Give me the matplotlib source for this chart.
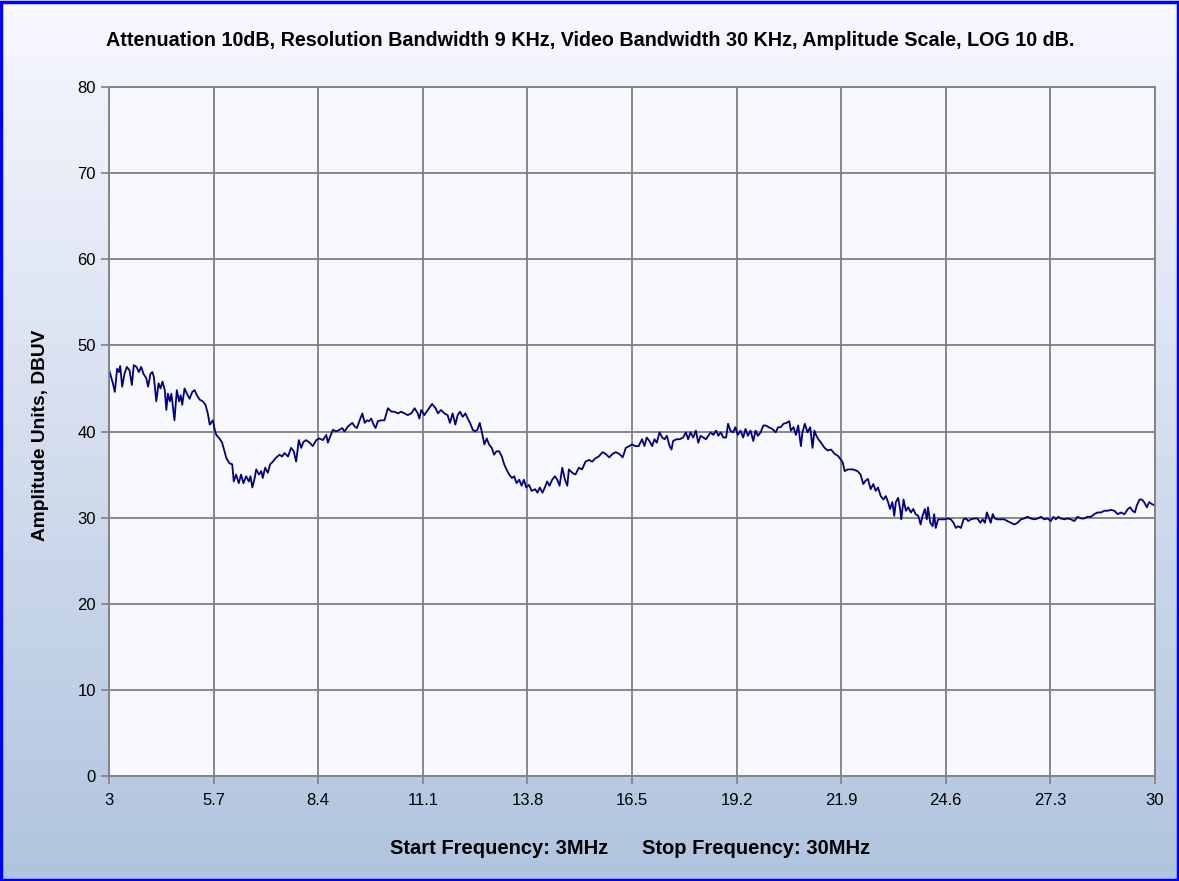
import numpy as np
import matplotlib.pyplot as plt
from matplotlib.patches import Rectangle

# frequency (MHz) and amplitude (dBuV)
freq_mhz = [
    3.00, 3.10, 3.15, 3.21, 3.26, 3.29, 3.34, 3.40, 3.46, 3.53, 3.59, 3.64, 3.71, 3.77, 3.83, 3.89,
    3.96, 4.01, 4.07, 4.12, 4.16, 4.22, 4.28, 4.33, 4.38, 4.44, 4.48, 4.52, 4.57, 4.61, 4.65, 4.69,
    4.75, 4.81, 4.85, 4.89, 4.95, 5.01, 5.08, 5.15, 5.21, 5.27, 5.34, 5.42, 5.49, 5.55, 5.60, 5.68,
    5.73, 5.77, 5.85, 5.92, 5.98, 6.03, 6.11, 6.18, 6.22, 6.28, 6.35, 6.41, 6.47, 6.54, 6.61, 6.65,
    6.70, 6.76, 6.80, 6.87, 6.93, 6.97, 7.03, 7.10, 7.16, 7.23, 7.30, 7.40, 7.47, 7.53, 7.62, 7.70,
    7.77, 7.83, 7.90, 7.96, 8.02, 8.09, 8.18, 8.26, 8.35, 8.43, 8.52, 8.61, 8.65, 8.69, 8.78, 8.86,
    8.95, 9.02, 9.08, 9.17, 9.28, 9.34, 9.40, 9.47, 9.54, 9.60, 9.66, 9.71, 9.77, 9.83, 9.88, 9.94,
    10.03, 10.11, 10.20, 10.29, 10.37, 10.46, 10.54, 10.63, 10.71, 10.80, 10.89, 10.97, 11.01, 11.06,
    11.14, 11.23, 11.34, 11.43, 11.49, 11.57, 11.66, 11.74, 11.80, 11.87, 11.94, 12.00, 12.06, 12.13,
    12.20, 12.26, 12.32, 12.39, 12.45, 12.51, 12.57, 12.63, 12.69, 12.75, 12.81, 12.88, 12.94, 13.00,
    13.07, 13.14, 13.20, 13.26, 13.33, 13.40, 13.46, 13.52, 13.59, 13.65, 13.71, 13.77, 13.84, 13.91,
    14.00, 14.06, 14.12, 14.19, 14.25, 14.31, 14.37, 14.44, 14.51, 14.57, 14.63, 14.70, 14.77, 14.83,
    14.87, 14.96, 15.04, 15.13, 15.21, 15.30, 15.39, 15.47, 15.56, 15.64, 15.74, 15.82, 15.91, 16.00,
    16.08, 16.17, 16.26, 16.34, 16.43, 16.50, 16.59, 16.67, 16.76, 16.82, 16.88, 16.95, 17.02, 17.08,
    17.14, 17.21, 17.28, 17.34, 17.40, 17.47, 17.52, 17.56, 17.65, 17.73, 17.82, 17.89, 17.95, 18.01,
    18.08, 18.15, 18.21, 18.27, 18.34, 18.41, 18.47, 18.53, 18.60, 18.67, 18.73, 18.79, 18.86, 18.93,
    18.98, 19.04, 19.11, 19.17, 19.23, 19.30, 19.37, 19.43, 19.49, 19.56, 19.63, 19.69, 19.75, 19.82,
    19.89, 19.95, 20.03, 20.12, 20.21, 20.27, 20.34, 20.41, 20.49, 20.56, 20.60, 20.67, 20.73, 20.79,
    20.86, 20.90, 20.96, 21.03, 21.10, 21.16, 21.21, 21.25, 21.31, 21.38, 21.47, 21.55, 21.64, 21.73,
    21.81, 21.88, 21.94, 21.99, 22.07, 22.20, 22.32, 22.40, 22.47, 22.53, 22.59, 22.66, 22.73, 22.79,
    22.85, 22.92, 22.99, 23.05, 23.11, 23.16, 23.22, 23.27, 23.31, 23.37, 23.42, 23.45, 23.51, 23.57,
    23.63, 23.70, 23.76, 23.82, 23.89, 23.95, 24.00, 24.06, 24.11, 24.14, 24.20, 24.26, 24.30, 24.34,
    24.40, 24.47, 24.56, 24.66, 24.73, 24.80, 24.86, 24.92, 24.99, 25.06, 25.12, 25.18, 25.25, 25.33,
    25.42, 25.49, 25.55, 25.61, 25.66, 25.72, 25.76, 25.81, 25.87, 25.93, 26.02, 26.11, 26.19, 26.28,
    26.37, 26.45, 26.54, 26.62, 26.71, 26.80, 26.88, 26.97, 27.06, 27.14, 27.23, 27.31, 27.38, 27.44,
    27.50, 27.57, 27.66, 27.74, 27.83, 27.92, 28.00, 28.09, 28.17, 28.26, 28.35, 28.43, 28.52, 28.61,
    28.69, 28.78, 28.86, 28.95, 29.04, 29.12, 29.21, 29.30, 29.36, 29.42, 29.48, 29.53, 29.60, 29.66,
    29.72, 29.79, 29.85, 29.91, 30.00,
]
amp_dbuv = [
    47.2, 45.6, 44.6, 47.3, 46.9, 47.6, 45.2, 46.7, 47.5, 47.1, 45.4, 47.7, 47.5, 46.9, 47.5, 46.7,
    46.2, 45.2, 46.7, 46.9, 46.3, 43.5, 45.6, 45.0, 45.8, 44.8, 42.5, 44.4, 43.5, 44.4, 42.9, 41.3,
    44.8, 43.5, 44.2, 43.1, 45.0, 44.4, 43.8, 44.6, 44.8, 44.2, 43.7, 43.5, 43.1, 42.1, 40.8, 41.3,
    40.2, 39.6, 39.2, 38.7, 37.7, 36.9, 36.3, 36.2, 34.2, 35.0, 34.0, 35.0, 34.0, 34.8, 34.2, 34.8,
    33.5, 34.6, 35.6, 35.0, 35.4, 34.6, 35.8, 35.2, 36.2, 36.5, 36.9, 37.3, 37.1, 37.5, 37.1, 38.1,
    37.7, 36.5, 39.0, 38.1, 38.8, 39.0, 38.7, 38.3, 39.0, 39.2, 39.0, 39.6, 38.7, 39.2, 40.2, 40.0,
    40.2, 40.4, 40.0, 40.6, 41.0, 40.6, 40.4, 41.3, 42.1, 41.0, 41.3, 41.2, 41.5, 40.8, 40.4, 41.2,
    41.3, 41.3, 42.7, 42.3, 42.3, 42.1, 42.3, 42.1, 41.9, 42.1, 42.7, 42.1, 41.5, 42.5,
    41.9, 42.5, 43.2, 42.7, 42.1, 42.5, 42.1, 41.9, 41.0, 42.1, 40.8, 41.9, 42.3, 41.7,
    42.1, 41.5, 41.0, 40.2, 40.0, 40.2, 41.0, 39.8, 38.5, 39.2, 38.5, 38.1, 37.3, 37.7,
    37.7, 37.1, 36.2, 35.6, 35.0, 34.6, 34.8, 34.0, 34.4, 33.7, 34.4, 33.5, 33.8, 33.1,
    33.3, 32.9, 33.5, 32.9, 33.5, 34.2, 33.7, 34.4, 34.8, 34.4, 33.7, 35.8, 34.4, 33.7,
    35.6, 35.2, 35.0, 35.8, 35.6, 36.5, 36.7, 36.5, 36.9, 37.1, 37.6, 37.4, 37.0, 37.4,
    37.6, 37.4, 37.0, 38.1, 38.3, 38.5, 38.3, 38.3, 39.1, 38.3, 39.3, 38.9, 38.3, 39.1,
    38.7, 39.9, 39.3, 39.1, 39.5, 38.3, 37.9, 38.9, 39.1, 39.1, 39.3, 39.9, 39.1, 39.9,
    39.3, 40.1, 38.7, 39.5, 39.3, 39.1, 39.5, 39.9, 39.6, 40.1, 39.5, 39.9, 39.3, 39.3,
    40.9, 40.1, 39.9, 40.5, 39.6, 40.1, 39.3, 40.3, 39.5, 40.1, 38.9, 40.1, 39.5, 39.9,
    40.7, 40.7, 40.5, 40.3, 39.9, 40.5, 40.5, 40.9, 41.0, 41.2, 40.1, 40.5, 39.6, 40.7,
    38.3, 39.9, 40.9, 39.9, 40.5, 38.1, 40.1, 39.6, 39.1, 38.7, 38.1, 37.8, 37.9, 37.4,
    37.2, 36.8, 36.4, 35.4, 35.6, 35.6, 35.4, 35.0, 33.9, 34.3, 34.5, 33.3, 33.9, 33.1,
    33.5, 32.5, 32.1, 32.5, 31.8, 31.0, 31.8, 30.2, 31.8, 32.3, 31.0, 29.8, 32.1, 30.8,
    31.2, 30.6, 31.0, 30.4, 30.2, 29.2, 30.2, 31.0, 29.8, 31.2, 29.4, 29.0, 30.4, 28.8,
    29.8, 29.8, 29.8, 29.9, 29.8, 29.4, 28.8, 29.0, 28.8, 29.8, 29.9, 29.6, 29.8, 29.9,
    29.9, 29.4, 29.8, 29.4, 30.6, 29.9, 29.4, 30.4, 29.9, 29.8, 29.8, 29.8, 29.6, 29.4,
    29.2, 29.4, 29.8, 29.9, 30.1, 29.9, 29.8, 29.9, 30.1, 29.8, 29.9, 29.6, 30.1, 29.8,
    30.1, 29.9, 29.8, 29.9, 29.8, 29.6, 30.1, 29.9, 29.9, 30.1, 30.1, 30.4, 30.6, 30.6,
    30.8, 30.8, 30.9, 30.8, 30.4, 30.6, 30.4, 31.0, 31.2, 30.8, 30.6, 31.4, 32.1, 32.1,
    31.8, 31.2, 31.8, 31.6, 31.4,
]
x_ticks = [3, 5.7, 8.4, 11.1, 13.8, 16.5, 19.2, 21.9, 24.6, 27.3, 30]
x_tick_labels = ['3', '5.7', '8.4', '11.1', '13.8', '16.5', '19.2', '21.9', '24.6', '27.3', '30']
y_ticks = [0, 10, 20, 30, 40, 50, 60, 70, 80]

title = 'Attenuation 10dB, Resolution Bandwidth 9 KHz, Video Bandwidth 30 KHz, Amplitude Scale, LOG 10 dB.'
x_label = 'Start Frequency: 3MHz      Stop Frequency: 30MHz'
y_label = 'Amplitude Units, DBUV'

plt.rcParams['font.family'] = ['Liberation Sans', 'DejaVu Sans']

fig = plt.figure(figsize=(11.79, 8.81), dpi=100)

# background gradient, white at the top to light steel blue at the bottom
bg = fig.add_axes([0, 0, 1, 1], zorder=-10)
top = np.array([248, 248, 255]) / 255
bottom = np.array([176, 196, 222]) / 255
t = np.linspace(0, 1, 256)[:, None]
grad = top + (bottom - top) * t
bg.imshow(grad[:, None, :], aspect='auto', extent=[0, 1, 0, 1])
bg.axis('off')
fig.patches.append(Rectangle((0.001, 0.001), 0.998, 0.997, transform=fig.transFigure,
                             fill=False, edgecolor='#0000ff', linewidth=2.5))

ax = fig.add_axes([109 / 1179, 1 - 776 / 881, (1155 - 109) / 1179, (776 - 87) / 881])
ax.set_facecolor('#f8f8ff')
ax.plot(freq_mhz, amp_dbuv, color='#000080', linewidth=1.3)

ax.set_xlim(3, 30)
ax.set_ylim(0, 80)
ax.set_xticks(x_ticks)
ax.set_xticklabels(x_tick_labels)
ax.set_yticks(y_ticks)
ax.grid(True, color='#808080', linewidth=1.3)
for s in ax.spines.values():
    s.set_color('#808080')
    s.set_linewidth(1.3)
ax.tick_params(colors='#808080', labelcolor='black', length=6, width=1.2, labelsize=12)
ax.tick_params(axis='x', pad=6)

fig.text(590 / 1179, 1 - 40 / 881, title, ha='center', va='center', fontsize=14.2, fontweight='bold')
fig.text(630 / 1179, 1 - 848 / 881, x_label, ha='center', va='center', fontsize=14.5, fontweight='bold')
fig.text(41 / 1179, 1 - 435 / 881, y_label, ha='center', va='center', rotation=90,
         fontsize=13.8, fontweight='bold')

fig.savefig('out.png', dpi=100)
